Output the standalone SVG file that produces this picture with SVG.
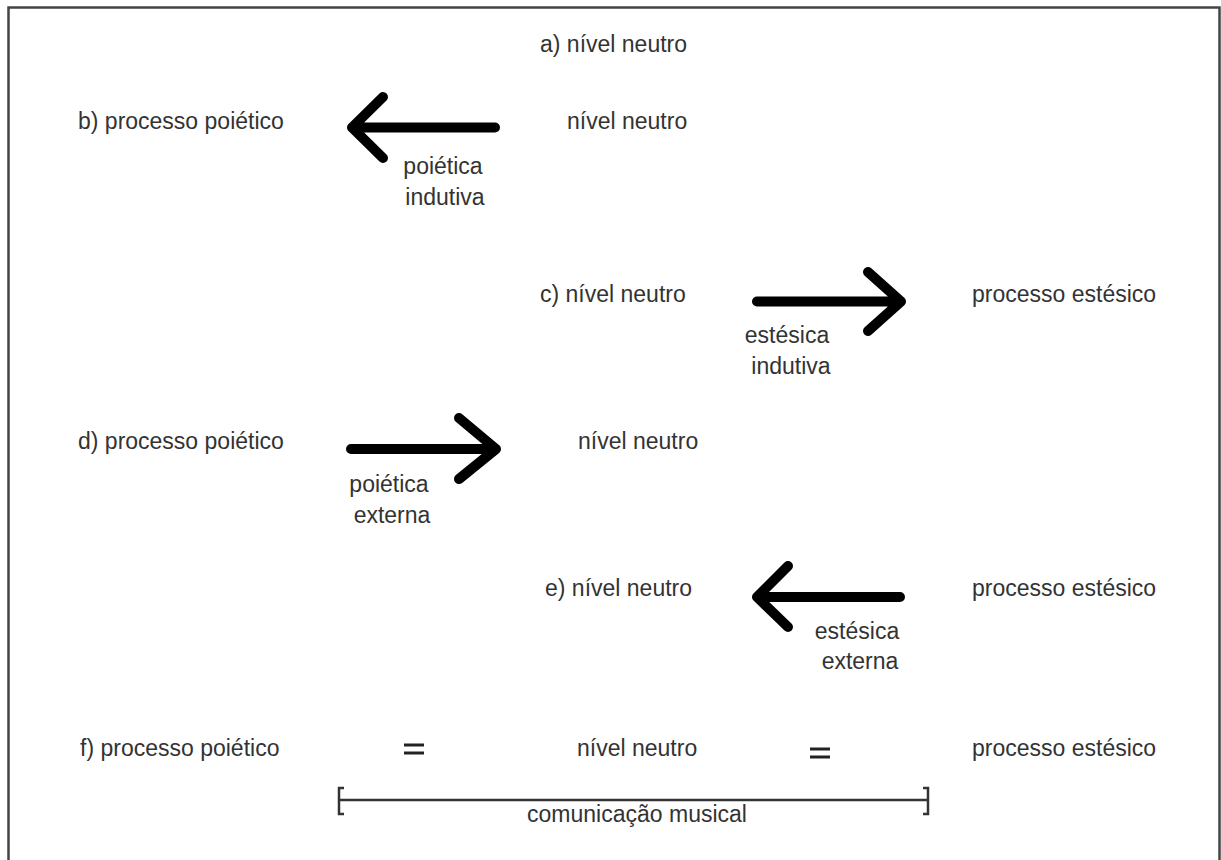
<svg xmlns="http://www.w3.org/2000/svg" width="1221" height="860" viewBox="0 0 1221 860">
<style>
text{font-family:"Liberation Sans",Arial,sans-serif;font-size:23px;fill:#333}
.c{text-anchor:middle}
.arrow{fill:none;stroke:#000;stroke-width:10;stroke-linecap:round;stroke-linejoin:round}
.thin{fill:none;stroke:#333;stroke-width:2.5}
.eq{fill:none;stroke:#222;stroke-width:3.2}
</style>
<rect x="0" y="0" width="1221" height="860" fill="#fff"/>
<path d="M8.5 870 V7.5 H1219.5 V870" fill="none" stroke="#444" stroke-width="2.5"/>
<g id="connectors">
<path class="arrow" d="M495 127.5 H352 M383 97 L352 127.5 L383 158"/>
<path class="arrow" d="M757 301.5 H901 M868 272 L901 301.5 L868 331"/>
<path class="arrow" d="M351 449 H496 M459 418 L496 449 L459 479"/>
<path class="arrow" d="M900 597 H757 M788 566 L757 597 L788 627"/>
<path class="eq" d="M404 745 H424 M404 753 H424"/>
<path class="eq" d="M810 749 H830 M810 757 H830"/>
<path class="thin" d="M344 788 H339 V814 H344 M339 800 H928 M923 788 H928 V814 H923"/>
</g>
<g id="a"><text x="540" y="52">a) nível neutro</text></g>
<g id="b-poietico"><text x="78" y="129">b) processo poiético</text></g>
<g id="b-neutro"><text x="567" y="129">nível neutro</text></g>
<g id="b-label"><text class="c" x="443" y="174">poiética</text><text class="c" x="445" y="205">indutiva</text></g>
<g id="c-neutro"><text x="540" y="302">c) nível neutro</text></g>
<g id="c-estesico"><text x="972" y="302">processo estésico</text></g>
<g id="c-label"><text class="c" x="787" y="343">estésica</text><text class="c" x="791" y="374">indutiva</text></g>
<g id="d-poietico"><text x="78" y="449">d) processo poiético</text></g>
<g id="d-neutro"><text x="578" y="449">nível neutro</text></g>
<g id="d-label"><text class="c" x="389" y="492">poiética</text><text class="c" x="392" y="523">externa</text></g>
<g id="e-neutro"><text x="545" y="596">e) nível neutro</text></g>
<g id="e-estesico"><text x="972" y="596">processo estésico</text></g>
<g id="e-label"><text class="c" x="857" y="639">estésica</text><text class="c" x="860" y="669">externa</text></g>
<g id="f-poietico"><text x="80" y="756">f) processo poiético</text></g>
<g id="f-neutro"><text x="577" y="756">nível neutro</text></g>
<g id="f-estesico"><text x="972" y="756">processo estésico</text></g>
<g id="f-label"><text class="c" x="637" y="822">comunicação musical</text></g>
</svg>
